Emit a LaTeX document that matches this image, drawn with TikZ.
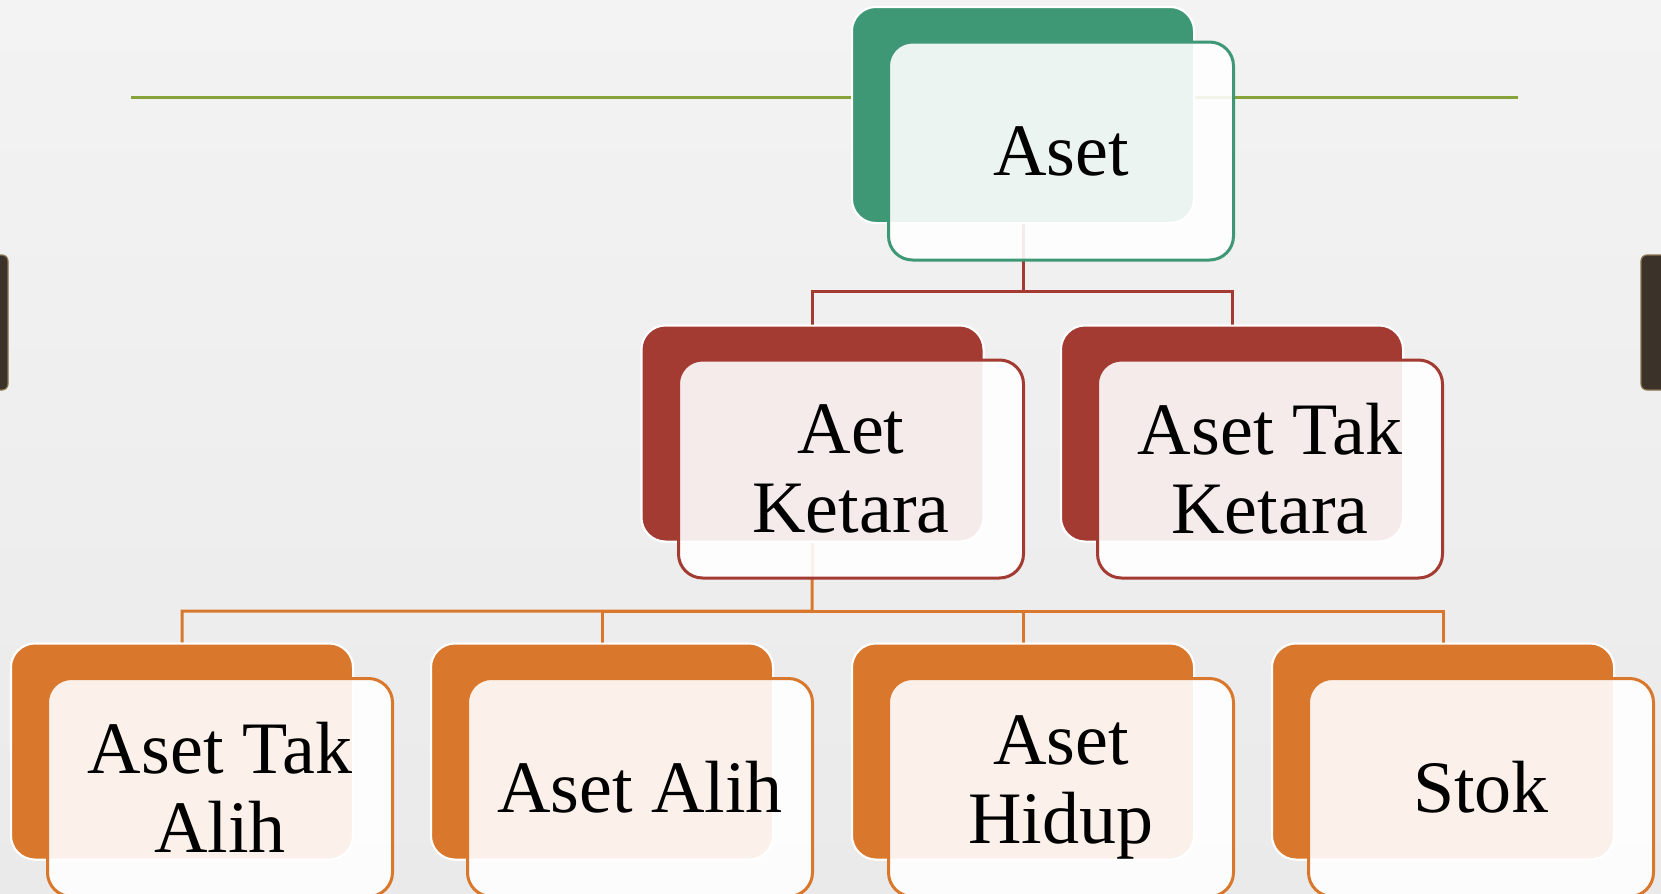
\documentclass[tikz,border=0pt]{standalone}
\usepackage{fontspec}
\setmainfont{Liberation Serif}
\definecolor{bgtop}{HTML}{F3F3F3}
\definecolor{bgbot}{HTML}{EAEAEA}
\definecolor{gr}{HTML}{3E9775}
\definecolor{rd}{HTML}{A33B33}
\definecolor{orc}{HTML}{D9782D}
\definecolor{olv}{HTML}{88A23A}
\definecolor{barc}{HTML}{3B3229}
\definecolor{bare}{HTML}{8A7550}
\begin{document}
\begin{tikzpicture}[x=0.5pt,y=-0.5pt,
  back/.style={rectangle, rounded corners=12pt, minimum width=171pt, minimum height=108pt, draw=white, line width=1pt, inner sep=0pt},
  front/.style={rectangle, rounded corners=12pt, minimum width=172.5pt, minimum height=109pt, fill=white, fill opacity=0.9, text opacity=1, line width=1.5pt, align=center, inner sep=0pt, font=\fontsize{37}{39.5}\selectfont},
  conn/.style={line width=1.5pt},
  sidebar/.style={fill=barc, draw=bare, line width=0.6pt, rounded corners=3pt}]
\useasboundingbox (0,0) rectangle (1661,894);
\shade[top color=bgtop, bottom color=bgbot] (0,0) rectangle (1661,894);
% side bars
\draw[sidebar] (-20,255) rectangle (8,390);
\draw[sidebar] (1641,255) rectangle (1680,390);
% olive rule
\draw[olv, line width=1.5pt] (131,97) -- (1518,97);
% junction coordinates
\coordinate (j1) at (1023,291);
\coordinate (j2) at (812,611);
% back boxes
\node[back, fill=gr] (g1b) at (1023,115) {};
\node[back, fill=rd] (l2ab) at (812.5,433.5) {};
\node[back, fill=rd] (l2bb) at (1232,433.5) {};
\node[back, fill=orc] (l3ab) at (182,751.5) {};
\node[back, fill=orc] (l3bb) at (602,751.5) {};
\node[back, fill=orc] (l3cb) at (1023,751.5) {};
\node[back, fill=orc] (l3db) at (1443,751.5) {};
% connectors
\draw[conn, rd] (g1b.south) -- (j1) -| (l2ab.north);
\draw[conn, rd] (j1) -| (l2bb.north);
\draw[conn, orc] (l2ab.south) -- (j2) -| (l3ab.north);
\draw[conn, orc] (j2) -| (l3bb.north);
\draw[conn, orc] (j2) -| (l3cb.north);
\draw[conn, orc] (j2) -| (l3db.north);
% redraw back boxes over connectors' end segments
\node[back, fill=gr] at (1023,115) {};
\node[back, fill=rd] at (812.5,433.5) {};
\node[back, fill=rd] at (1232,433.5) {};
\node[back, fill=orc] at (182,751.5) {};
\node[back, fill=orc] at (602,751.5) {};
\node[back, fill=orc] at (1023,751.5) {};
\node[back, fill=orc] at (1443,751.5) {};
% front boxes
\node[front, draw=gr] (g1f) at (1061,151) {Aset};
\node[front, draw=rd] (l2af) at (851,469) {Aet\\Ketara};
\node[front, draw=rd] (l2bf) at (1270,469) {Aset Tak\\Ketara};
\node[front, draw=orc] (l3af) at (220,787.5) {Aset Tak\\Alih};
\node[front, draw=orc] (l3bf) at (640,787.5) {Aset Alih};
\node[front, draw=orc] (l3cf) at (1061,787.5) {Aset\\Hidup};
\node[front, draw=orc] (l3df) at (1481,787.5) {Stok};
\end{tikzpicture}
\end{document}
